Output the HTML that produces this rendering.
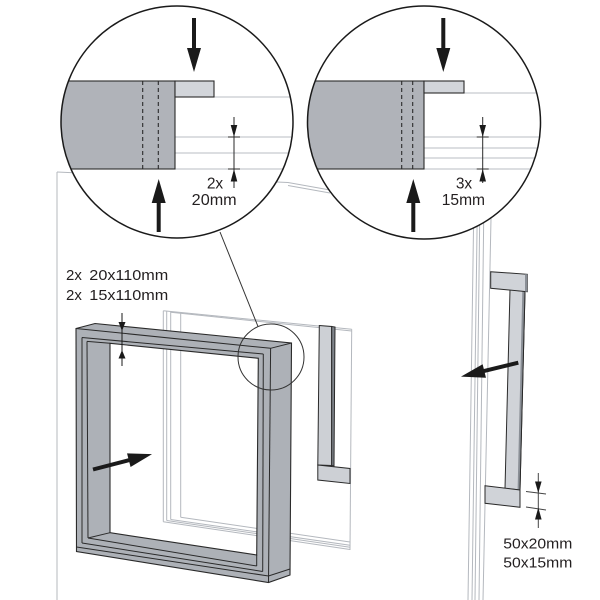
<!DOCTYPE html>
<html>
<head>
<meta charset="utf-8">
<style>
  html, body { margin: 0; padding: 0; background: #fff; }
  svg { display: block; }
  text { font-family: "Liberation Sans", sans-serif; fill: #231f20; }
</style>
</head>
<body>
<svg width="600" height="600" viewBox="0 0 600 600" xmlns="http://www.w3.org/2000/svg">
  <rect width="600" height="600" fill="#fff"/>
  <defs>
    <clipPath id="c1"><circle cx="177" cy="122" r="116"/></clipPath>
    <clipPath id="c2"><circle cx="424" cy="122.5" r="116.5"/></clipPath>
  </defs>

  <!-- wall panel lines -->
  <g stroke="#b4b8be" stroke-width="1" fill="none">
    <line x1="57" y1="172" x2="57" y2="600"/>
    <polyline points="57,172 288,182.5 330,190"/>
    <line x1="288" y1="185.5" x2="330" y2="193"/>
    <line x1="474" y1="195" x2="468" y2="600"/>
    <line x1="477.5" y1="195" x2="472" y2="600"/>
    <line x1="480" y1="195" x2="475" y2="600"/>
    <line x1="484" y1="195" x2="479" y2="600"/>
    <line x1="491.5" y1="195" x2="483" y2="600"/>
  </g>

  <!-- window behind frame -->
  <g stroke="#b4b8be" stroke-width="1" fill="none">
    <line x1="163.3" y1="310.7" x2="351.7" y2="329.3"/>
    <line x1="170.7" y1="312.2" x2="351.7" y2="331"/>
    <line x1="163.3" y1="310.7" x2="163.3" y2="521.7"/>
    <line x1="166.7" y1="311" x2="166.7" y2="520.5"/>
    <line x1="170.7" y1="312" x2="170.7" y2="519.5"/>
    <line x1="180.7" y1="313.2" x2="180.7" y2="517.3"/>
    <line x1="351.7" y1="329.3" x2="350" y2="550"/>
    <line x1="163.3" y1="521.7" x2="350" y2="549.5"/>
    <line x1="166.7" y1="520.5" x2="350" y2="547.3"/>
    <line x1="170.7" y1="519.5" x2="350" y2="545.2"/>
    <line x1="180.7" y1="517.3" x2="350" y2="542"/>
  </g>

  <!-- board right of frame -->
  <g stroke="#2a2a2a" stroke-width="1">
    <polygon points="319.3,325.5 331.7,326.5 331.7,465.5 317.8,465" fill="#cdd0d5"/>
    <polygon points="331.7,326.5 335,327 334,466 331.7,465.5" fill="#7f848b"/>
    <polygon points="317.8,465 350,468.5 350,483.5 317.8,480" fill="#cdd0d5"/>
  </g>

  <!-- frame -->
  <path d="M76,328.5 L95,323.5 L291.5,343 L290,575 L268.5,582.5 L76.5,551.5 Z M110,343.3 L258.3,358.3 L256.7,555 L110,532.7 Z"
        fill="#adb1b7" fill-rule="evenodd" stroke="#2a2a2a" stroke-width="1.1"/>
  <g stroke="#2a2a2a" stroke-width="1" fill="none">
    <path d="M76,328.5 L270.6,348.3 L291.5,343"/>
    <path d="M82,337.5 L263.3,354"/>
    <path d="M87,341.4 L110,343.3"/>
    <path d="M82,337.5 L82,543"/>
    <path d="M87,341.4 L88,538"/>
    <path d="M270.6,348.3 L268.5,582.5"/>
    <path d="M263.3,354 L262.7,571.5"/>
    <path d="M256.7,555 L256.7,566"/>
    <path d="M76.5,547 L268.5,576 L290,569"/>
    <path d="M82,543 L262.7,571.5"/>
    <path d="M88,538 L256.7,566"/>
    <path d="M110,532.7 L88,538"/>
  </g>

  <!-- dimension arrows on frame -->
  <g fill="#1a1a1a" stroke="none">
    <rect x="121.5" y="313" width="1" height="53"/>
    <polygon points="118.5,322 125.5,322 122,331"/>
    <polygon points="118.5,358.5 125.5,358.5 122,350"/>
  </g>

  <!-- arrow into frame -->
  <path transform="translate(93,469.5) rotate(-14.6)" d="M0,-2 L37,-2 L37,-7 L61,0 L37,7 L37,2 L0,2 Z" fill="#1a1a1a"/>

  <!-- small circle + connector -->
  <circle cx="271" cy="357" r="33" fill="none" stroke="#333" stroke-width="1"/>
  <line x1="220" y1="232" x2="258" y2="326.5" stroke="#333" stroke-width="1"/>

  <!-- right element -->
  <g stroke="#2a2a2a" stroke-width="1">
    <polygon points="510,289.5 525,291.5 520,490 505,488.5" fill="#d0d3d8"/>
    <polygon points="522.3,291.8 525,292 520,490 517.6,489.7" fill="#8a8f96" stroke="none"/>
    <line x1="525" y1="291.5" x2="520" y2="490"/>
    <polygon points="490.7,271.7 527.3,274.3 527.3,291.7 490.7,288.3" fill="#d0d3d8"/>
    <polygon points="525,274.1 527.3,274.3 527.3,291.7 525,291.5" fill="#8a8f96" stroke="none"/>
    <polygon points="485,485.7 520,490 520,507.3 485,503.3" fill="#d0d3d8"/>
  </g>
  <path transform="translate(518.3,362.7) rotate(166.3)" d="M0,-2 L35,-2 L35,-7 L59,0 L35,7 L35,2 L0,2 Z" fill="#1a1a1a"/>

  <!-- bottom right dimension -->
  <g stroke="#444" stroke-width="1">
    <line x1="538.3" y1="473" x2="538.3" y2="528"/>
    <line x1="526" y1="491.5" x2="546" y2="494"/>
    <line x1="526" y1="507" x2="546" y2="510"/>
  </g>
  <g fill="#1a1a1a">
    <polygon points="535,481.5 541.6,481.5 538.3,493"/>
    <polygon points="535,519.5 541.6,519.5 538.3,507.5"/>
  </g>
  <text x="503.3" y="548.5" font-size="15" textLength="69" lengthAdjust="spacingAndGlyphs">50x20mm</text>
  <text x="503.3" y="567.5" font-size="15" textLength="69" lengthAdjust="spacingAndGlyphs">50x15mm</text>

  <!-- left labels -->
  <text x="66" y="280" font-size="15">2x</text>
  <text x="89.3" y="280" font-size="15" textLength="79" lengthAdjust="spacingAndGlyphs">20x110mm</text>
  <text x="66" y="300" font-size="15">2x</text>
  <text x="89.3" y="300" font-size="15" textLength="79" lengthAdjust="spacingAndGlyphs">15x110mm</text>

  <!-- LEFT BIG CIRCLE -->
  <circle cx="177" cy="122" r="116" fill="#fff"/>
  <g clip-path="url(#c1)">
    <g stroke="#b9bdc3" stroke-width="1">
      <line x1="214" y1="97" x2="300" y2="97"/>
      <line x1="175" y1="137" x2="300" y2="137"/>
      <line x1="175" y1="153" x2="300" y2="153"/>
      <line x1="175" y1="169" x2="300" y2="169"/>
    </g>
    <rect x="50" y="81" width="125" height="88" fill="#b0b3b9" stroke="#2a2a2a" stroke-width="1.1"/>
    <rect x="175" y="81" width="39" height="16" fill="#d2d5da" stroke="#2a2a2a" stroke-width="1.1"/>
    <g stroke="#2a2a2a" stroke-width="1.1" stroke-dasharray="4,3">
      <line x1="142.7" y1="81" x2="142.7" y2="169"/>
      <line x1="158.3" y1="81" x2="158.3" y2="169"/>
    </g>
  </g>
  <g stroke="#2a2a2a" stroke-width="1">
    <line x1="234" y1="117" x2="234" y2="188"/>
    <line x1="228" y1="137" x2="240" y2="137"/>
    <line x1="228" y1="169" x2="240" y2="169"/>
  </g>
  <g fill="#1a1a1a">
    <polygon points="230.7,125 237.3,125 234,137"/>
    <polygon points="230.7,181.5 237.3,181.5 234,169"/>
    <path d="M192,18 L196,18 L196,48 L201,48 L194,72 L187,48 L192,48 Z"/>
    <path d="M156.7,232 L160.7,232 L160.7,203 L165.7,203 L158.7,179 L151.7,203 L156.7,203 Z"/>
  </g>
  <text x="215" y="188.5" font-size="15.5" text-anchor="middle">2x</text>
  <text x="214.2" y="205" font-size="15.5" text-anchor="middle" textLength="45" lengthAdjust="spacingAndGlyphs">20mm</text>
  <circle cx="177" cy="122" r="116" fill="none" stroke="#1a1a1a" stroke-width="1.5"/>

  <!-- RIGHT BIG CIRCLE -->
  <circle cx="424" cy="122.5" r="116.5" fill="#fff"/>
  <g clip-path="url(#c2)">
    <g stroke="#b9bdc3" stroke-width="1">
      <line x1="464" y1="93" x2="545" y2="93"/>
      <line x1="424" y1="137" x2="545" y2="137"/>
      <line x1="424" y1="148" x2="545" y2="148"/>
      <line x1="424" y1="158" x2="545" y2="158"/>
      <line x1="424" y1="169" x2="545" y2="169"/>
    </g>
    <rect x="300" y="81" width="124" height="88" fill="#b0b3b9" stroke="#2a2a2a" stroke-width="1.1"/>
    <rect x="424" y="81" width="40" height="12" fill="#d2d5da" stroke="#2a2a2a" stroke-width="1.1"/>
    <g stroke="#2a2a2a" stroke-width="1.1" stroke-dasharray="4,3">
      <line x1="401.7" y1="81" x2="401.7" y2="169"/>
      <line x1="412.7" y1="81" x2="412.7" y2="169"/>
    </g>
  </g>
  <g stroke="#2a2a2a" stroke-width="1">
    <line x1="482.7" y1="117" x2="482.7" y2="183"/>
    <line x1="476.7" y1="137" x2="488.7" y2="137"/>
    <line x1="476.7" y1="169" x2="488.7" y2="169"/>
  </g>
  <g fill="#1a1a1a">
    <polygon points="479.4,125 486,125 482.7,137"/>
    <polygon points="479.4,181.5 486,181.5 482.7,169"/>
    <path d="M441.3,18 L445.3,18 L445.3,48 L450.3,48 L443.3,72 L436.3,48 L441.3,48 Z"/>
    <path d="M411.3,232 L415.3,232 L415.3,203 L420.3,203 L413.3,179 L406.3,203 L411.3,203 Z"/>
  </g>
  <text x="464" y="188.5" font-size="15.5" text-anchor="middle">3x</text>
  <text x="463.4" y="205" font-size="15.5" text-anchor="middle" textLength="43.3" lengthAdjust="spacingAndGlyphs">15mm</text>
  <circle cx="424" cy="122.5" r="116.5" fill="none" stroke="#1a1a1a" stroke-width="1.5"/>
</svg>
</body>
</html>
